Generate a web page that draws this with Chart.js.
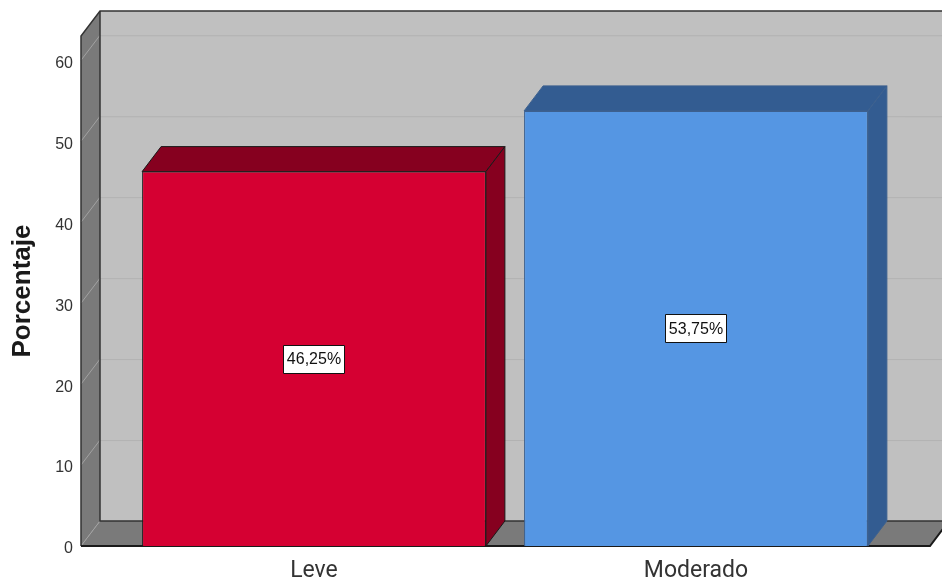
<!DOCTYPE html>
<html>
<head>
<meta charset="utf-8">
<script src="https://cdn.jsdelivr.net/npm/chart.js@4/dist/chart.umd.min.js"></script>
<style>
  html, body { margin: 0; padding: 0; background: #fff; }
  #wrap { width: 942px; height: 587px; }
</style>
</head>
<body>
<div id="wrap"><canvas id="grafico" width="942" height="587"></canvas></div>
<script>
const categorias = ['Leve', 'Moderado'];
const porcentajes = [46.25, 53.75];
const ticksY = [0, 10, 20, 30, 40, 50, 60];
const coloresFrente = ['#d50032', '#5596e3'];
const coloresSombra = ['#86001f', '#335c91'];
const coloresBorde = ['#1a1a1a', '#3d618f'];

const DX = 19, DY = -25;       // desplazamiento de profundidad 3D
const PARED_IZQ = 81;           // borde frontal de la pared lateral
const PISO_DER = 930;           // esquina frontal derecha del piso

const fondo3d = {
  id: 'fondo3d',
  beforeDatasetsDraw(chart) {
    const { ctx, chartArea, scales: { y } } = chart;
    const W = chart.width;
    const base = y.getPixelForValue(0);
    const top = chartArea.top;
    ctx.save();
    // pared trasera
    ctx.fillStyle = '#c0c0c0';
    ctx.fillRect(PARED_IZQ + DX, top + DY, W - PARED_IZQ - DX, base - top);
    // pared izquierda
    ctx.fillStyle = '#7a7a7a';
    ctx.beginPath();
    ctx.moveTo(PARED_IZQ, top);
    ctx.lineTo(PARED_IZQ + DX, top + DY);
    ctx.lineTo(PARED_IZQ + DX, base + DY);
    ctx.lineTo(PARED_IZQ, base);
    ctx.closePath();
    ctx.fill();
    // piso
    ctx.beginPath();
    ctx.moveTo(PARED_IZQ, base);
    ctx.lineTo(PARED_IZQ + DX, base + DY);
    ctx.lineTo(PISO_DER + DX, base + DY);
    ctx.lineTo(PISO_DER, base);
    ctx.closePath();
    ctx.fill();
    // rejilla
    ticksY.forEach(v => {
      if (v === 0) return;
      const yf = y.getPixelForValue(v);
      ctx.strokeStyle = '#a2a2a2';
      ctx.lineWidth = 1;
      ctx.beginPath();
      ctx.moveTo(PARED_IZQ, yf);
      ctx.lineTo(PARED_IZQ + DX, yf + DY);
      ctx.stroke();
      ctx.strokeStyle = '#b2b2b2';
      ctx.beginPath();
      ctx.moveTo(PARED_IZQ + DX, yf + DY + 0.5);
      ctx.lineTo(W, yf + DY + 0.5);
      ctx.stroke();
    });
    // diagonal del piso
    ctx.strokeStyle = '#a2a2a2';
    ctx.beginPath();
    ctx.moveTo(PARED_IZQ, base);
    ctx.lineTo(PARED_IZQ + DX, base + DY);
    ctx.stroke();
    // bordes
    ctx.strokeStyle = '#333';
    ctx.lineWidth = 1.5;
    ctx.beginPath();
    ctx.moveTo(PARED_IZQ, base);
    ctx.lineTo(PARED_IZQ, top);
    ctx.lineTo(PARED_IZQ + DX, top + DY);
    ctx.lineTo(W, top + DY);
    ctx.stroke();
    ctx.beginPath();
    ctx.moveTo(PARED_IZQ + DX, top + DY);
    ctx.lineTo(PARED_IZQ + DX, base + DY);
    ctx.lineTo(W, base + DY);
    ctx.stroke();
    ctx.strokeStyle = '#1a1a1a';
    ctx.lineWidth = 2;
    ctx.beginPath();
    ctx.moveTo(PARED_IZQ, base);
    ctx.lineTo(PISO_DER, base);
    ctx.lineTo(PISO_DER + DX, base + DY);
    ctx.stroke();
    ctx.restore();
  },
  afterDatasetsDraw(chart) {
    const { ctx } = chart;
    const meta = chart.getDatasetMeta(0);
    ctx.save();
    meta.data.forEach((bar, i) => {
      const x1 = bar.x - bar.width / 2, x2 = bar.x + bar.width / 2;
      const yt = bar.y, yb = bar.base;
      ctx.fillStyle = coloresSombra[i];
      ctx.strokeStyle = coloresBorde[i];
      ctx.lineWidth = 1;
      ctx.lineJoin = 'round';
      // cara superior
      ctx.beginPath();
      ctx.moveTo(x1, yt);
      ctx.lineTo(x1 + DX, yt + DY);
      ctx.lineTo(x2 + DX, yt + DY);
      ctx.lineTo(x2, yt);
      ctx.closePath();
      ctx.fill();
      ctx.stroke();
      // cara lateral
      ctx.beginPath();
      ctx.moveTo(x2, yt);
      ctx.lineTo(x2 + DX, yt + DY);
      ctx.lineTo(x2 + DX, yb + DY);
      ctx.lineTo(x2, yb);
      ctx.closePath();
      ctx.fill();
      ctx.stroke();
      // etiqueta
      const txt = porcentajes[i].toFixed(2).replace('.', ',') + '%';
      ctx.font = '16px "Liberation Sans", Arial, sans-serif';
      const w = ctx.measureText(txt).width + 7;
      const h = 28;
      const cy = (yt + yb) / 2;
      ctx.fillStyle = '#fff';
      ctx.fillRect(Math.round(bar.x - w / 2) + 0.5, Math.round(cy - h / 2) + 0.5, Math.round(w), h);
      ctx.strokeStyle = '#111';
      ctx.strokeRect(Math.round(bar.x - w / 2) + 0.5, Math.round(cy - h / 2) + 0.5, Math.round(w), h);
      ctx.fillStyle = '#111';
      ctx.textAlign = 'center';
      ctx.textBaseline = 'middle';
      ctx.fillText(txt, bar.x, cy + 1);
    });
    ctx.restore();
  }
};

new Chart(document.getElementById('grafico'), {
  type: 'bar',
  data: {
    labels: categorias,
    datasets: [{
      data: porcentajes,
      backgroundColor: coloresFrente,
      borderColor: coloresBorde,
      borderWidth: 1,
      barPercentage: 0.9,
      categoryPercentage: 1
    }]
  },
  options: {
    responsive: false,
    animation: false,
    layout: { padding: { top: 36, right: 55, bottom: 0, left: 0 } },
    plugins: { legend: { display: false }, tooltip: { enabled: false } },
    scales: {
      x: {
        grid: { display: false, drawTicks: false },
        border: { display: false },
        ticks: { color: '#333', padding: 11, font: { family: 'Roboto', size: 23 } },
        afterFit: s => { s.height = 41; s.paddingLeft = 0; s.paddingRight = 0; }
      },
      y: {
        min: 0,
        max: 63,
        afterBuildTicks: s => { s.ticks = ticksY.map(v => ({ value: v })); },
        grid: { display: false, drawTicks: false },
        border: { display: false },
        ticks: { color: '#333', padding: 50, labelOffset: 3, font: { family: '"Liberation Sans", Arial', size: 16 } },
        title: {
          display: true,
          text: 'Porcentaje',
          color: '#1a1a1a',
          padding: { top: 7, bottom: 0 },
          font: { family: '"Liberation Sans", Arial', size: 26, weight: 'bold' }
        },
        afterFit: s => { s.width = 123; s.paddingTop = 0; s.paddingBottom = 0; }
      }
    }
  },
  plugins: [fondo3d]
});
</script>
</body>
</html>
